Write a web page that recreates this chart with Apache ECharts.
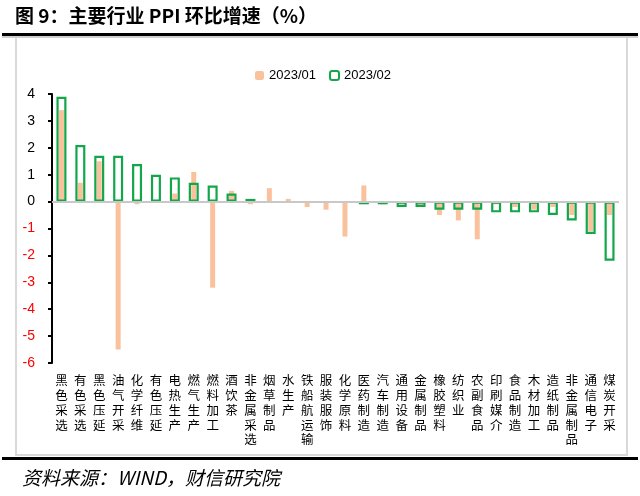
<!DOCTYPE html>
<html>
<head>
<meta charset="utf-8">
<script src="https://cdn.jsdelivr.net/npm/echarts@6/dist/echarts.min.js"></script>
<style>
html,body{margin:0;padding:0;background:#fff;}
#c{width:640px;height:496px;}
</style>
</head>
<body>
<div id="c"></div>
<script>
const categories = ['黑色采选','有色采选','黑色压延','油气开采','化学纤维','有色压延','电热生产','燃气生产','燃料加工','酒饮茶','非金属采选','烟草制品','水生产','铁船航运输','服装服饰','化学原料','医药制造','汽车制造','通用设备','金属制品','橡胶塑料','纺织业','农副食品','印刷媒介','食品制造','木材加工','造纸制品','非金属制品','通信电子','煤炭开采'];
const jan2023 = [3.4,0.7,1.5,-5.5,-0.1,0,0.3,1.1,-3.2,0.4,-0.1,0.5,0.1,-0.2,-0.3,-1.3,0.6,-0.1,-0.1,-0.2,-0.5,-0.7,-1.4,-0.1,-0.2,-0.3,-0.2,-0.5,-1.1,-0.5];
const feb2023 = [3.9,2.1,1.7,1.7,1.4,1.0,0.9,0.7,0.6,0.3,0.1,null,null,null,null,null,-0.1,-0.1,-0.2,-0.2,-0.3,-0.3,-0.3,-0.4,-0.4,-0.4,-0.5,-0.7,-1.2,-2.2];
const yTicks = [-6,-5,-4,-3,-2,-1,0,1,2,3,4];

const chart = echarts.init(document.getElementById('c'));
chart.setOption({
  backgroundColor: '#fff',
  animation: false,
  graphic: [
    {type:'text', left:15, top:6, style:{text:'图 9：主要行业 PPI 环比增速（%）', font:'bold 19px "Noto Sans CJK SC", serif', fill:'#000'}},
    {type:'rect', shape:{x:2, y:36, width:636, height:2}, style:{fill:'#cfcfcf'}},
    {type:'rect', shape:{x:2, y:33, width:636, height:3}, style:{fill:'#000'}},
    {type:'rect', shape:{x:15, y:38, width:2, height:417}, style:{fill:'#d9d9d9'}},
    {type:'rect', shape:{x:626, y:38, width:2, height:417}, style:{fill:'#d9d9d9'}},
    {type:'rect', shape:{x:15, y:454, width:613, height:2}, style:{fill:'#d9d9d9'}},
    {type:'rect', shape:{x:2, y:457, width:636, height:3}, style:{fill:'#000'}},
    {type:'text', left:22, top:468, style:{text:'资料来源：WIND，财信研究院', font:'italic 19px "Noto Sans CJK SC", serif', fill:'#000'}}
  ],
  legend: {
    data: ['2023/01','2023/02'],
    left: 250, top: 64,
    itemWidth: 9, itemHeight: 9, itemGap: 13,
    textStyle: {fontSize: 13, color:'#000', fontFamily:'"Liberation Sans", sans-serif'}
  },
  grid: {left: 52, right: 21, top: 94, bottom: 133},
  xAxis: [
    {type:'category', data: categories, axisLine:{show:false}, axisTick:{show:false},
     axisLabel:{interval:0, margin:10, fontSize:12.5, lineHeight:14.8, color:'#000', verticalAlign:'top',
       fontFamily:'"Noto Sans CJK SC", sans-serif',
       formatter: v => v.split('').join('\n')}},
    {type:'category', data: categories, show:false}
  ],
  yAxis: {
    type:'value', min:-6, max:4, interval:1,
    splitLine:{show:false},
    axisLine:{show:true, lineStyle:{color:'#000', width:2}},
    axisTick:{show:true, length:4, lineStyle:{color:'#000', width:2}},
    axisLabel:{margin:17, fontSize:14, fontFamily:'"Liberation Sans", sans-serif',
      color: v => (v < 0 ? '#ff0000' : '#000')}
  },
  series: [
    {name:'2023/01', type:'bar', xAxisIndex:0, data: jan2023, barWidth:5,
     itemStyle:{color:'#f9c29c'},
     markLine:{silent:true, symbol:'none', label:{show:false},
       lineStyle:{color:'#c8c8c8', width:2, type:'solid'}, data:[{yAxis:0}]}},
    {name:'2023/02', type:'bar', xAxisIndex:1, data: feb2023, barWidth:10,
     itemStyle:{color:'rgba(255,255,255,0)', borderColor:'#13a64a', borderWidth:2.2}}
  ]
});
</script>
</body>
</html>
